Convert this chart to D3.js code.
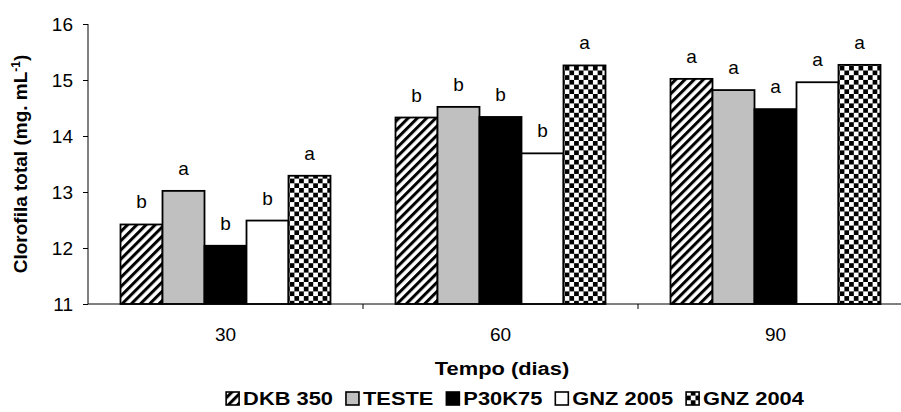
<!DOCTYPE html>
<html><head><meta charset="utf-8">
<script src="https://cdn.jsdelivr.net/npm/d3@7"></script>
<style>body{margin:0;background:#fff}svg{display:block}text{font-family:"Liberation Sans",Arial,sans-serif}</style>
</head><body><svg id="c" width="901" height="412"></svg>
<script>
const categories = ["30", "60", "90"];
const seriesNames = ["DKB 350", "TESTE", "P30K75", "GNZ 2005", "GNZ 2004"];
const dkb350 = [12.42, 14.33, 15.02];
const teste = [13.02, 14.52, 14.82];
const p30k75 = [12.04, 14.34, 14.48];
const gnz2005 = [12.49, 13.69, 14.96];
const gnz2004 = [13.29, 15.26, 15.27];
const letters30 = ["b", "a", "b", "b", "a"];
const letters60 = ["b", "b", "b", "b", "a"];
const letters90 = ["a", "a", "a", "a", "a"];
const yTicks = [11, 12, 13, 14, 15, 16];

const seriesValues = [dkb350, teste, p30k75, gnz2005, gnz2004];
const lettersByCat = [letters30, letters60, letters90];
const fills = ["url(#hatch)", "#c0c0c0", "#000", "#fff", "url(#checker)"];

const svg = d3.select("#c");
const defs = svg.append("defs");
const hatch = defs.append("pattern").attr("id", "hatch").attr("patternUnits", "userSpaceOnUse")
  .attr("width", 6.5).attr("height", 6.5).attr("patternTransform", "rotate(45)");
hatch.append("rect").attr("width", 6.5).attr("height", 6.5).attr("fill", "#fff");
hatch.append("rect").attr("width", 3).attr("height", 6.5).attr("fill", "#000");
const chk = defs.append("pattern").attr("id", "checker").attr("patternUnits", "userSpaceOnUse")
  .attr("width", 9.4).attr("height", 9.4);
chk.append("rect").attr("width", 9.4).attr("height", 9.4).attr("fill", "#fff");
chk.append("rect").attr("width", 4.7).attr("height", 4.7).attr("fill", "#000");
chk.append("rect").attr("x", 4.7).attr("y", 4.7).attr("width", 4.7).attr("height", 4.7).attr("fill", "#000");

const x0 = d3.scaleBand().domain(categories).range([88, 913]).paddingInner(0.2364).paddingOuter(0.1182);
const x1 = d3.scaleBand().domain(seriesNames).range([0, x0.bandwidth()]);
const y = d3.scaleLinear().domain([11, 16]).range([304, 24]);

// bars
categories.forEach((cat, ci) => {
  const g = svg.append("g").attr("transform", `translate(${x0(cat)},0)`);
  seriesNames.forEach((s, si) => {
    const v = seriesValues[si][ci];
    g.append("rect").attr("x", x1(s)).attr("y", y(v)).attr("width", x1.bandwidth())
      .attr("height", y(11) - y(v)).attr("fill", fills[si]).attr("stroke", "#000").attr("stroke-width", 1.8);
    g.append("text").attr("x", x1(s) + x1.bandwidth() / 2).attr("y", y(v) - 16)
      .attr("text-anchor", "middle").attr("font-size", 19).attr("fill", "#000").text(lettersByCat[ci][si]);
  });
});

// y axis
const yAxis = svg.append("g").attr("transform", "translate(88,0)")
  .call(d3.axisLeft(y).tickValues(yTicks).tickSize(5).tickPadding(10).tickFormat(d3.format("d")));
yAxis.select(".domain").attr("stroke", "#000").attr("d", `M0,${y(16)}H0V${y(11)}`);
yAxis.selectAll(".tick line").attr("stroke", "#000");
yAxis.selectAll(".tick text").attr("font-size", 19).attr("font-family", "Liberation Sans, Arial, sans-serif").attr("fill", "#000");

// x axis
const xAxisG = svg.append("g").attr("transform", `translate(0,${y(11)})`);
xAxisG.append("line").attr("x1", 88).attr("x2", 913).attr("stroke", "#000").attr("stroke-width", 1);
const bounds = [88].concat(categories.map(c => x0(c) + x0.bandwidth() + x0.step() * 0.1182 * 2 / 2 + (x0.step() - x0.bandwidth()) / 2 - x0.step() * 0.1182));
categories.forEach((c, i) => {
  const right = x0(c) + x0.bandwidth() / 2 + x0.step() / 2;
  xAxisG.append("line").attr("x1", right).attr("x2", right).attr("y1", 0).attr("y2", 5).attr("stroke", "#000");
  xAxisG.append("text").attr("x", x0(c) + x0.bandwidth() / 2).attr("y", 37)
    .attr("text-anchor", "middle").attr("font-size", 19).attr("fill", "#000").text(c);
});

// stretched bold text helper
const SX = 1.15;
function boldText(xp, yp, txt, anchor) {
  return svg.append("text").attr("transform", `translate(${xp},${yp}) scale(${SX},1)`)
    .attr("text-anchor", anchor || "middle").attr("font-size", 19).attr("font-weight", "bold").attr("fill", "#000").text(txt);
}

boldText(502, 375, "Tempo (dias)");

// y title
const yt = svg.append("text").attr("transform", `translate(27,164) rotate(-90)`)
  .attr("text-anchor", "middle").attr("font-size", 19).attr("font-weight", "bold").attr("fill", "#000");
yt.append("tspan").text("Clorofila total (mg. mL");
yt.append("tspan").attr("font-size", 12).attr("dy", -7).text("-1");
yt.append("tspan").attr("dy", 7).text(")");

// legend
const legend = svg.append("g");
const iconSize = 13, gapIconText = 4, gapItems = 13;
let items = [];
seriesNames.forEach((s, i) => {
  const g = legend.append("g");
  g.append("rect").attr("x", 0).attr("y", -iconSize).attr("width", iconSize).attr("height", iconSize)
    .attr("fill", fills[i]).attr("stroke", "#000").attr("stroke-width", 1.6);
  const t = g.append("text").attr("transform", `translate(${iconSize + gapIconText},0) scale(${SX},1)`)
    .attr("font-size", 19).attr("font-weight", "bold").attr("fill", "#000").text(s);
  items.push({ g, w: iconSize + gapIconText + t.node().getComputedTextLength() * SX });
});
const total = d3.sum(items, d => d.w) + gapItems * (items.length - 1);
let cx = 515 - total / 2;
items.forEach(it => { it.g.attr("transform", `translate(${cx},405)`); cx += it.w + gapItems; });
</script></body></html>
